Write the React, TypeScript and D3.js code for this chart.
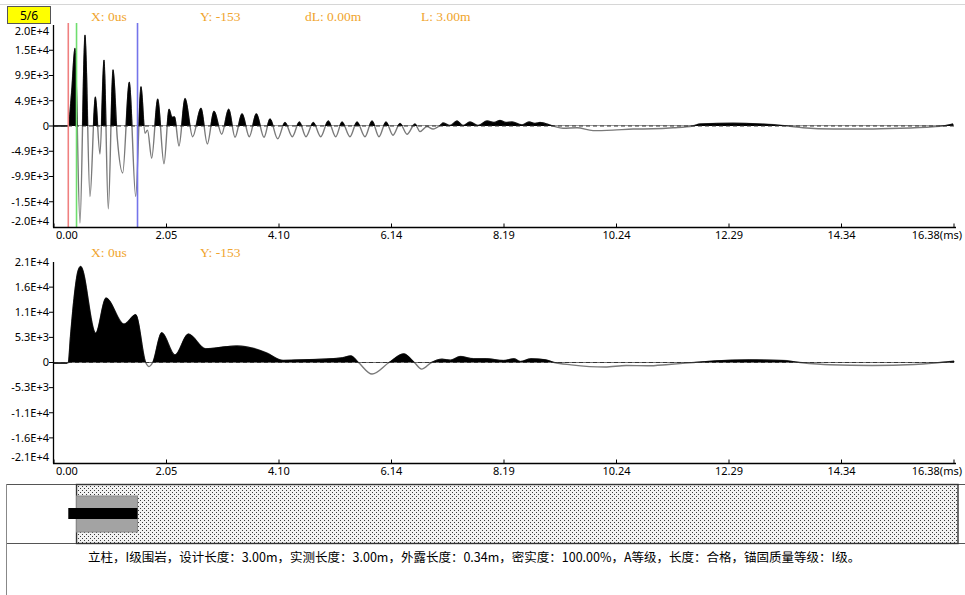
import React from 'react'
import * as d3 from 'd3'

const W = 965
const H = 595

// x axis: time in ms
const xMax = 16.38
const xTickLabels = ['0.00', '2.05', '4.10', '6.14', '8.19', '10.24', '12.29', '14.34', '16.38(ms)']

// y axis tick labels (bottom to top)
const topYLabels = ['-2.0E+4', '-1.5E+4', '-9.9E+3', '-4.9E+3', '0', '4.9E+3', '9.9E+3', '1.5E+4', '2.0E+4']
const topYStep = 4940
const botYLabels = ['-2.1E+4', '-1.6E+4', '-1.1E+4', '-5.3E+3', '0', '5.3E+3', '1.1E+4', '1.6E+4', '2.1E+4']
const botYStep = 5300

// upper trace (raw signal)
const topTimes = [
  0, 0.255, 0.32, 0.382, 0.473, 0.564, 0.655, 0.752, 0.837, 0.91, 0.988, 1.074, 1.152, 1.25, 1.37,
  1.487, 1.583, 1.656, 1.702, 1.778, 1.887, 2.002, 2.093, 2.148, 2.193, 2.275, 2.384, 2.524, 2.675,
  2.79, 2.912, 3.052, 3.18, 3.294, 3.422, 3.555, 3.682, 3.822, 3.931, 4.071, 4.204, 4.337, 4.465,
  4.586, 4.719, 4.854, 4.992, 5.127, 5.242, 5.387, 5.515, 5.66, 5.788, 5.915, 6.042, 6.17, 6.297,
  6.425, 6.57, 6.661, 6.789, 6.898, 7.025, 7.08, 7.207, 7.335, 7.444, 7.571, 7.717, 7.881, 8.008,
  8.117, 8.226, 8.336, 8.518, 8.645, 8.754, 8.845, 9.082, 9.264, 9.519, 9.81, 10.174, 10.538,
  10.902, 11.266, 11.63, 11.757, 12.358, 12.849, 13.341, 13.632, 14.178, 14.797, 15.398, 15.998,
  16.18, 16.362,
]
const topValues = [
  0, 0, 6500, 15200, -19000, 17800, -13800, 5700, -5500, 12900, -16200, 11000, -2400, -9200, 8600,
  -13800, 7700, -1400, -800, -6300, 5300, -7400, 3300, 1700, 1800, -3900, 5400, -2100, 3500,
  -3500, 2900, -1600, 3300, -2200, 2400, -2100, 2400, -2200, 1400, -2500, 700, -2100, 800,
  -2100, 700, -2100, 1000, -2100, 800, -2100, 800, -2100, 1000, -2100, 800, -1800, 500,
  -1600, 400, -1100, -100, -600, 100, 600, 100, 1000, 100, 800, 100, 1000, 700,
  1100, 700, 800, 200, 800, 500, 700, 0, -450, -350, -900, -800, -600,
  -550, -350, 0, 400, 550, 400, 0, -350, -600, -600, -450, -150,
  0, 400,
]

// lower trace (processed signal)
const botTimes = [
  0, 0.237, 0.26, 0.3, 0.364, 0.437, 0.486, 0.759, 0.946, 1.274, 1.487, 1.669, 1.729, 1.796, 1.96,
  2.202, 2.444, 2.761, 3.143, 3.325, 3.622, 3.871, 4.168, 4.477, 5.023, 5.249, 5.402, 5.542, 5.788,
  6.097, 6.366, 6.559, 6.69, 6.869, 7.062, 7.214, 7.393, 7.639, 7.87, 8.179, 8.372, 8.487, 8.68,
  8.951, 9.104, 9.413, 10.028, 10.416, 10.802, 11.186, 11.648, 12.036, 12.653, 13.268, 13.577,
  14.118, 14.888, 15.659, 16.121, 16.38,
]
const botValues = [
  -153, -153, 0, 5500, 13500, 19300, 20260, 6200, 13600, 8100, 10100, 0, -850, 0, 6300,
  1600, 6000, 2900, 3350, 3500, 3000, 2000, 450, 560, 780, 1000, 1400, 0, -2430,
  0, 1820, 0, -1390, 0, 710, 500, 1260, 780, 800, 420, 780, 210, 780,
  560, 0, -490, -960, -630, -700, -420, 0, 350, 560, 420, 0,
  -490, -630, -420, 0, 280,
]

// cursor lines (ms)
const markerTimes = [0.26, 0.41, 1.52]
const markerColors = ['#f08080', '#6ede6e', '#7474ea']

const info =
  '立柱，I级围岩，设计长度：3.00m，实测长度：3.00m，外露长度：0.34m，密实度：100.00%，A等级，长度：合格，锚固质量等级：I级。'

const axisFont = '"Noto Sans", "DejaVu Sans", sans-serif'
const headFont = '"Liberation Serif", "Times New Roman", serif'
const headColor = '#f0a42c'

const x = d3.scaleLinear().domain([0, xMax]).range([54, 954])

function Chart({ top, bottom, times, values, step, labels, id, topLabelShift, markers }) {
  const y = d3.scaleLinear().domain([-4 * step, 4 * step]).range([bottom, top])
  const zero = y(0)
  const pts = times.map((t, i) => [x(t), y(values[i])])
  const line = d3.line().curve(d3.curveMonotoneX)(pts)
  const area = d3
    .area()
    .x(d => d[0])
    .y0(zero)
    .y1(d => d[1])
    .curve(d3.curveMonotoneX)(pts)
  const axisY = bottom + 0.5
  return (
    <g>
      <clipPath id={id}>
        <rect x={0} y={0} width={W} height={zero} />
      </clipPath>
      <path d={line} fill="none" stroke="#7a7a7a" strokeWidth={1.4} />
      <path d={area} fill="#000" stroke="#000" strokeWidth={0.8} clipPath={`url(#${id})`} />
      <line x1={54} x2={955} y1={zero} y2={zero} stroke="#333" strokeWidth={1.2} strokeDasharray="4,3" />
      <line x1={x(times[0])} x2={x(times[1])} y1={y(values[0])} y2={y(values[1])} stroke="#222" strokeWidth={1.4} />
      {markers &&
        markerTimes.map((t, i) => (
          <line key={i} x1={x(t)} x2={x(t)} y1={top - 2} y2={bottom} stroke={markerColors[i]} strokeWidth={1.6} />
        ))}
      {/* y axis */}
      <line x1={53.5} x2={53.5} y1={top} y2={axisY} stroke="#000" strokeWidth={1.3} />
      {labels.map((lab, i) => {
        const k = i - 4
        const ty = y(k * step)
        let ly = ty
        if (k === 4) ly = ty + topLabelShift
        if (k === -4) ly = ty - 6
        return (
          <g key={lab}>
            {Math.abs(k) < 4 && <line x1={49} x2={53} y1={ty} y2={ty} stroke="#000" strokeWidth={1} />}
            <text x={49} y={ly} dy="0.35em" textAnchor="end" fontSize={11} fontFamily={axisFont}>
              {lab}
            </text>
          </g>
        )
      })}
      {/* x axis */}
      <line x1={53} x2={956} y1={axisY} y2={axisY} stroke="#000" strokeWidth={1.3} />
      {xTickLabels.map((lab, i) => {
        const tx = x((i * xMax) / 8)
        const first = i === 0
        const last = i === xTickLabels.length - 1
        return (
          <g key={lab}>
            <line x1={tx} x2={tx} y1={axisY - 4} y2={axisY} stroke="#000" strokeWidth={1} />
            <text
              x={first ? tx + 2 : last ? W - 3 : tx}
              y={axisY + 11.5}
              textAnchor={first ? 'start' : last ? 'end' : 'middle'}
              fontSize={11}
              fontFamily={axisFont}
            >
              {lab}
            </text>
          </g>
        )
      })}
    </g>
  )
}

export default function App() {
  const xr = x(markerTimes[0])
  const xg = x(markerTimes[1])
  const xb = x(markerTimes[2])
  return (
    <div style={{ position: 'absolute', left: 0, top: 0 }}>
      <svg width={W} height={H} viewBox={`0 0 ${W} ${H}`} style={{ display: 'block', background: '#fff' }}>
        <defs>
          <pattern id="dots" width={4} height={4} patternUnits="userSpaceOnUse">
            <rect width={4} height={4} fill="#f2f2f2" />
            <rect x={0} y={0} width={1} height={1} fill="#3a3a3a" />
            <rect x={2} y={2} width={1} height={1} fill="#3a3a3a" />
          </pattern>
        </defs>
        <line x1={0} x2={W} y1={4.5} y2={4.5} stroke="#d6d6d6" />

        {/* header */}
        <rect x={7.5} y={6.5} width={43} height={17} fill="#ffff00" stroke="#555" />
        <text x={29} y={19.5} textAnchor="middle" fontSize={12} fontFamily={axisFont}>
          5/6
        </text>
        <text x={91} y={20.5} fontSize={13.5} fontFamily={headFont} fill={headColor}>X: 0us</text>
        <text x={200} y={20.5} fontSize={13.5} fontFamily={headFont} fill={headColor}>Y: -153</text>
        <text x={305} y={20.5} fontSize={13.5} fontFamily={headFont} fill={headColor}>dL: 0.00m</text>
        <text x={421} y={20.5} fontSize={13.5} fontFamily={headFont} fill={headColor}>L: 3.00m</text>

        <Chart
          top={25}
          bottom={227}
          times={topTimes}
          values={topValues}
          step={topYStep}
          labels={topYLabels}
          id="clipTop"
          topLabelShift={6.5}
          markers
        />

        <text x={91} y={256.5} fontSize={13.5} fontFamily={headFont} fill={headColor}>X: 0us</text>
        <text x={200} y={256.5} fontSize={13.5} fontFamily={headFont} fill={headColor}>Y: -153</text>

        <Chart
          top={262}
          bottom={463}
          times={botTimes}
          values={botValues}
          step={botYStep}
          labels={botYLabels}
          id="clipBot"
          topLabelShift={0}
          markers={false}
        />

        {/* anchor diagram */}
        <line x1={6} x2={W} y1={484.5} y2={484.5} stroke="#555" strokeWidth={1.2} />
        <line x1={6} x2={W} y1={543.5} y2={543.5} stroke="#555" strokeWidth={1.2} />
        <line x1={6.5} x2={6.5} y1={484} y2={H} stroke="#888" strokeWidth={1} />
        <rect x={xg} y={484.5} width={958 - xg} height={59} fill="url(#dots)" stroke="#333" strokeWidth={1.4} />
        <rect x={xg} y={496} width={xb - xg} height={36} fill="#a3a3a3" stroke="#8a8a8a" />
        <rect x={xr} y={508} width={xb - xr} height={11} fill="#000" />

        <text x={88} y={561.5} fontSize={12.5} fontFamily={'"Noto Sans CJK SC", sans-serif'}>
          {info}
        </text>
      </svg>
    </div>
  )
}
